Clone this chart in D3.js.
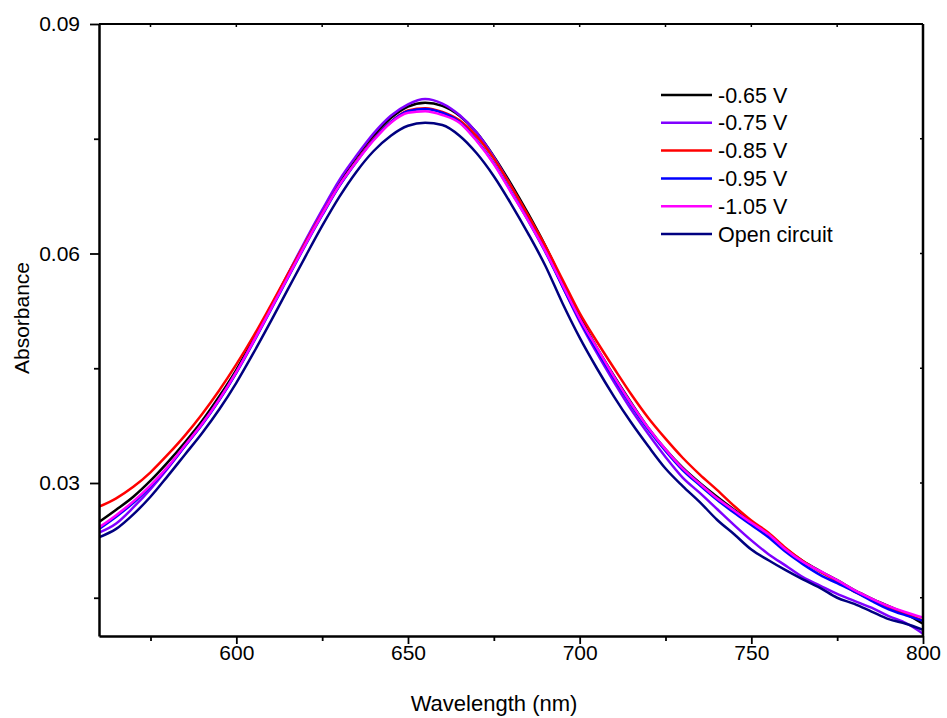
<!DOCTYPE html>
<html>
<head>
<meta charset="utf-8">
<script src="https://cdn.jsdelivr.net/npm/d3@7"></script>
<style>
  body { margin: 0; background: #fff; }
  text { font-family: Arial, "Liberation Sans", sans-serif; }
</style>
</head>
<body>
<script>
const width = 947;
const height = 718;
const margin = { top: 24, right: 24, bottom: 82, left: 99 };

// wavelengths, 5 nm steps
const wavelength = [560, 565, 570, 575, 580, 585, 590, 595, 600, 605, 610, 615, 620, 625, 630, 635, 640, 645, 650, 655, 660,
    665, 670, 675, 680, 685, 690, 695, 700, 705, 710, 715, 720, 725, 730, 735, 740, 745, 750, 755, 760,
    765, 770, 775, 780, 785, 790, 795, 800];

const absM065 = [0.0249, 0.0265, 0.0282, 0.0303, 0.0327, 0.0353, 0.0381, 0.0413, 0.0448, 0.0488, 0.0530, 0.0572, 0.0614, 0.0655, 0.0693, 0.0726, 0.0754, 0.0777, 0.0792, 0.0797, 0.0793,
    0.0780, 0.0758, 0.0727, 0.0691, 0.0652, 0.0610, 0.0563, 0.0518, 0.0477, 0.0440, 0.0405, 0.0372, 0.0344, 0.0320, 0.0300, 0.0282, 0.0265, 0.0249, 0.0233, 0.0214,
    0.0198, 0.0185, 0.0173, 0.0160, 0.0149, 0.0139, 0.0129, 0.0116];
const absM075 = [0.0235, 0.0247, 0.0268, 0.0292, 0.0319, 0.0348, 0.0377, 0.0409, 0.0445, 0.0486, 0.0529, 0.0573, 0.0616, 0.0657, 0.0696, 0.0728, 0.0757, 0.0780, 0.0795, 0.0802, 0.0796,
    0.0781, 0.0758, 0.0726, 0.0688, 0.0648, 0.0605, 0.0557, 0.0511, 0.0470, 0.0432, 0.0396, 0.0364, 0.0334, 0.0307, 0.0287, 0.0266, 0.0245, 0.0225, 0.0207, 0.0192,
    0.0177, 0.0166, 0.0155, 0.0146, 0.0137, 0.0126, 0.0117, 0.0103];
const absM085 = [0.0269, 0.0280, 0.0295, 0.0314, 0.0337, 0.0362, 0.0390, 0.0421, 0.0455, 0.0492, 0.0532, 0.0573, 0.0613, 0.0652, 0.0689, 0.0721, 0.0750, 0.0772, 0.0787, 0.0790, 0.0785,
    0.0774, 0.0753, 0.0724, 0.0688, 0.0650, 0.0610, 0.0566, 0.0522, 0.0485, 0.0450, 0.0416, 0.0385, 0.0358, 0.0333, 0.0311, 0.0291, 0.0270, 0.0251, 0.0235, 0.0215,
    0.0198, 0.0184, 0.0172, 0.0158, 0.0148, 0.0138, 0.0129, 0.0120];
const absM095 = [0.0240, 0.0256, 0.0274, 0.0296, 0.0320, 0.0348, 0.0376, 0.0408, 0.0444, 0.0484, 0.0526, 0.0568, 0.0610, 0.0650, 0.0688, 0.0720, 0.0749, 0.0772, 0.0786, 0.0789, 0.0784,
    0.0772, 0.0748, 0.0718, 0.0681, 0.0643, 0.0602, 0.0557, 0.0513, 0.0474, 0.0437, 0.0402, 0.0370, 0.0342, 0.0317, 0.0297, 0.0278, 0.0261, 0.0245, 0.0229, 0.0210,
    0.0194, 0.0180, 0.0169, 0.0158, 0.0146, 0.0135, 0.0127, 0.0120];
const absM105 = [0.0242, 0.0258, 0.0276, 0.0297, 0.0321, 0.0349, 0.0377, 0.0409, 0.0445, 0.0485, 0.0527, 0.0569, 0.0611, 0.0651, 0.0689, 0.0720, 0.0748, 0.0771, 0.0784, 0.0786, 0.0781,
    0.0771, 0.0747, 0.0717, 0.0680, 0.0643, 0.0603, 0.0559, 0.0515, 0.0477, 0.0439, 0.0404, 0.0372, 0.0344, 0.0319, 0.0299, 0.0280, 0.0264, 0.0248, 0.0233, 0.0213,
    0.0197, 0.0185, 0.0173, 0.0160, 0.0149, 0.0139, 0.0131, 0.0124];
const absOpen = [0.0229, 0.0240, 0.0259, 0.0282, 0.0309, 0.0337, 0.0365, 0.0396, 0.0431, 0.0470, 0.0511, 0.0553, 0.0595, 0.0636, 0.0674, 0.0707, 0.0734, 0.0754, 0.0767, 0.0771, 0.0768,
    0.0754, 0.0731, 0.0701, 0.0665, 0.0626, 0.0584, 0.0535, 0.0490, 0.0450, 0.0413, 0.0379, 0.0348, 0.0319, 0.0296, 0.0275, 0.0252, 0.0233, 0.0213, 0.0199, 0.0186,
    0.0174, 0.0163, 0.0150, 0.0142, 0.0132, 0.0122, 0.0116, 0.0108];

const seriesNames = ['-0.65 V', '-0.75 V', '-0.85 V', '-0.95 V', '-1.05 V', 'Open circuit'];
const seriesColors = ['#000000', '#8000ff', '#ff0000', '#0000ff', '#ff00ff', '#000080'];
const seriesValues = [absM065, absM075, absM085, absM095, absM105, absOpen];

const xTicks = [600, 650, 700, 750, 800];
const xMinor = [575, 625, 675, 725, 775];
const yTicks = [0.03, 0.06, 0.09];
const yMinor = [0.015, 0.045, 0.075];

const innerW = width - margin.left - margin.right;
const innerH = height - margin.top - margin.bottom;

const svg = d3.select('body')
    .append('svg')
    .attr('width', width)
    .attr('height', height);

const x = d3.scaleLinear().domain([560, 800]).range([margin.left, margin.left + innerW]);
const y = d3.scaleLinear().domain([0.01, 0.09]).range([margin.top + innerH, margin.top]);

svg.append('clipPath').attr('id', 'plot-clip')
    .append('rect')
    .attr('x', margin.left).attr('y', margin.top)
    .attr('width', innerW).attr('height', innerH);

const line = d3.line()
    .x(d => x(d[0]))
    .y(d => y(d[1]))
    .curve(d3.curveMonotoneX);

const lines = svg.append('g').attr('clip-path', 'url(#plot-clip)');
seriesValues.forEach((vals, i) => {
    lines.append('path')
        .datum(wavelength.map((w, j) => [w, vals[j]]))
        .attr('fill', 'none')
        .attr('stroke', seriesColors[i])
        .attr('stroke-width', 2.5)
        .attr('stroke-linejoin', 'round')
        .attr('d', line);
});

// frame: top and right
svg.append('line')
    .attr('x1', margin.left).attr('x2', margin.left + innerW)
    .attr('y1', margin.top).attr('y2', margin.top)
    .attr('stroke', '#000').attr('stroke-width', 2);
svg.append('line')
    .attr('x1', margin.left + innerW).attr('x2', margin.left + innerW)
    .attr('y1', margin.top).attr('y2', margin.top + innerH)
    .attr('stroke', '#000').attr('stroke-width', 2.5);

// inward ticks on the top and right
svg.append('g').selectAll('line')
    .data(xTicks.concat(xMinor))
    .enter().append('line')
    .attr('x1', d => x(d)).attr('x2', d => x(d))
    .attr('y1', margin.top).attr('y2', margin.top + 3)
    .attr('stroke', '#000').attr('stroke-width', 1.5);
svg.append('g').selectAll('line')
    .data(yTicks.concat(yMinor))
    .enter().append('line')
    .attr('x1', margin.left + innerW).attr('x2', margin.left + innerW - 3)
    .attr('y1', d => y(d)).attr('y2', d => y(d))
    .attr('stroke', '#000').attr('stroke-width', 1.5);

// bottom axis
svg.append('g')
    .attr('transform', `translate(0,${margin.top + innerH})`)
    .call(d3.axisBottom(x).tickValues(xTicks).tickSize(8).tickPadding(1).tickSizeOuter(0));
svg.append('g')
    .attr('transform', `translate(0,${margin.top + innerH})`)
    .call(d3.axisBottom(x).tickValues(xMinor).tickSize(5).tickFormat('').tickSizeOuter(0))
    .select('.domain').remove();

// left axis
svg.append('g')
    .attr('transform', `translate(${margin.left},0)`)
    .call(d3.axisLeft(y).tickValues(yTicks).tickSize(9).tickPadding(10).tickFormat(d3.format('.2f')).tickSizeOuter(0));
svg.append('g')
    .attr('transform', `translate(${margin.left},0)`)
    .call(d3.axisLeft(y).tickValues(yMinor).tickSize(5).tickFormat('').tickSizeOuter(0))
    .select('.domain').remove();

svg.selectAll('.domain').attr('stroke-width', 2.5);
svg.selectAll('.tick line').attr('stroke-width', 1.8);
svg.selectAll('.tick text').style('font-size', '21px').attr('fill', '#000');

svg.append('text')
    .attr('x', 494)
    .attr('y', 711)
    .attr('text-anchor', 'middle')
    .style('font-size', '22px')
    .text('Wavelength (nm)');

svg.append('text')
    .attr('transform', 'translate(29,318) rotate(-90)')
    .attr('text-anchor', 'middle')
    .style('font-size', '21px')
    .text('Absorbance');

// legend
const legend = svg.append('g');
seriesNames.forEach((name, i) => {
    const ly = 95 + i * 27.8;
    legend.append('line')
        .attr('x1', 661).attr('x2', 712)
        .attr('y1', ly).attr('y2', ly)
        .attr('stroke', seriesColors[i])
        .attr('stroke-width', 2.5);
    legend.append('text')
        .attr('x', 718).attr('y', ly)
        .attr('dy', '0.35em')
        .style('font-size', '21.5px')
        .text(name);
});
</script>
</body>
</html>
